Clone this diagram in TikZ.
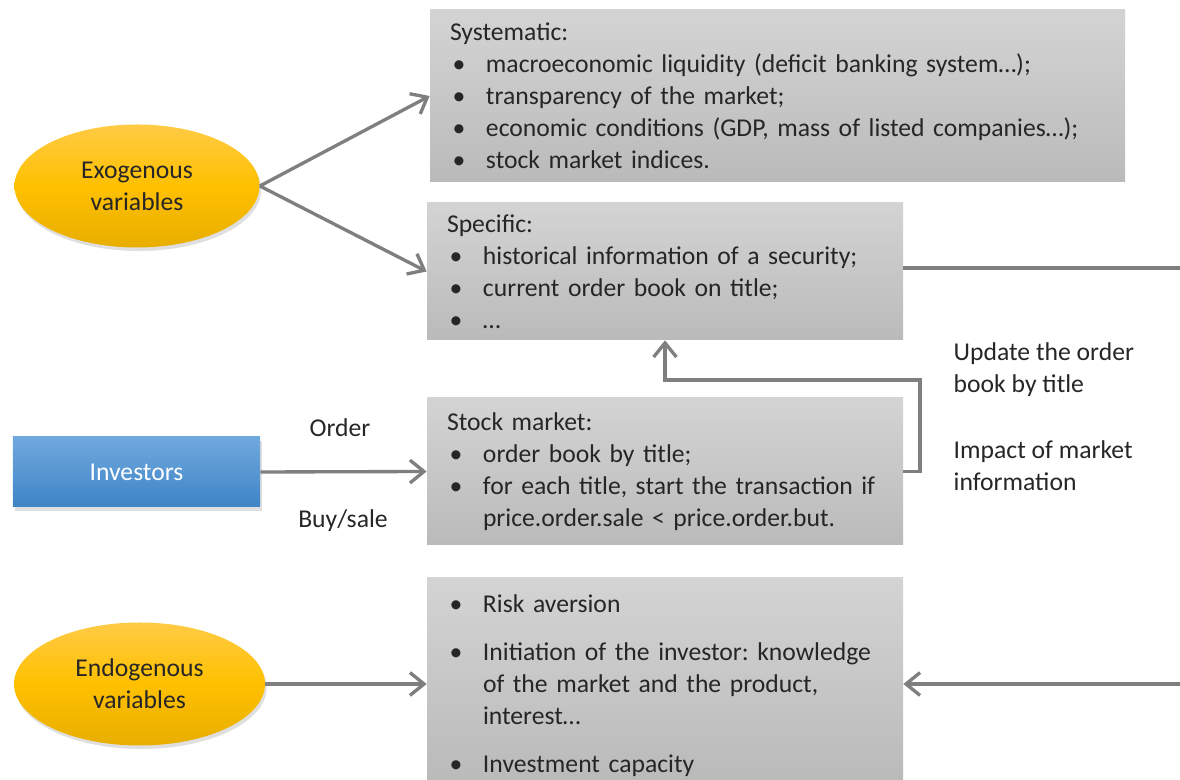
\documentclass[tikz,border=0pt]{standalone}
\usepackage{fontspec}
\setmainfont{Carlito}
\usepackage{xcolor}
\usetikzlibrary{arrows.meta,shadows,positioning,shapes.geometric}
\definecolor{linegray}{HTML}{7F7F7F}
\definecolor{txtgray}{HTML}{262626}
\definecolor{goldtop}{HTML}{FFCB45}
\definecolor{goldmid}{HTML}{FFC000}
\definecolor{goldbot}{HTML}{E8AE00}
\definecolor{bluetop}{HTML}{70A9DE}
\definecolor{bluebot}{HTML}{3E84C6}
\newcommand{\blt}{\par\noindent\hangindent=0.72cm\hangafter=1\makebox[0.72cm][l]{\hspace{0.05cm}\textbullet}}
\frenchspacing

\begin{document}
\begin{tikzpicture}[
  every node/.style={font=\fontsize{14.6}{18.2}\selectfont, text=txtgray},
  factor/.style={ellipse, minimum width=4.9cm, minimum height=2.46cm, align=center,
    top color=goldtop, bottom color=goldbot, middle color=goldmid,
    drop shadow={opacity=0.25, shadow xshift=1pt, shadow yshift=-2pt}},
  actor/.style={rectangle, minimum width=4.94cm, minimum height=1.4cm,
    top color=bluetop, bottom color=bluebot, text=white,
    drop shadow={opacity=0.25, shadow xshift=1pt, shadow yshift=-2pt}},
  infobox/.style={rectangle, top color=black!17, bottom color=black!27,
    align=left, inner xsep=0.4cm, inner ysep=0pt},
  conn/.style={draw=linegray, line width=1.9pt, -{Straight Barb[length=8pt,width=13pt]}},
  link/.style={draw=linegray, line width=1.9pt}
]
\useasboundingbox (0,0) rectangle (23.6,-15.6);

\node[factor] (exo) at (2.74,-3.72) {Exogenous\\variables};
\node[actor] (inv) at (2.73,-9.44) {Investors};
\node[factor, minimum width=5.02cm] (endo) at (2.79,-13.68) {Endogenous\\variables};

\node[infobox, minimum width=13.9cm, minimum height=3.44cm, text width=13.1cm] (syst) at (15.55,-1.92)
  {Systematic:
   \blt macroeconomic liquidity (deficit banking system…);
   \blt transparency of the market;
   \blt economic conditions (GDP, mass of listed companies…);
   \blt stock market indices.\par};
\node[infobox, minimum width=9.52cm, minimum height=2.74cm, text width=8.72cm] (spec) at (13.3,-5.43)
  {Specific:
   \blt historical information of a security;
   \blt current order book on title;
   \blt …\par};
\node[infobox, minimum width=9.52cm, minimum height=2.94cm, text width=8.72cm] (stock) at (13.3,-9.43)
  {Stock market:
   \blt order book by title;
   \blt for each title, start the transaction if\newline price.order.sale < price.order.but.\par};
\node[infobox, minimum width=9.52cm, minimum height=4.04cm, text width=8.72cm] (endbox) at (13.3,-13.58)
  {\blt Risk aversion\par\vspace{0.32cm}
   \blt Initiation of the investor: knowledge\newline of the market and the product,\newline interest…\par\vspace{0.32cm}
   \blt Investment capacity\par};

\node (order) at (6.8,-8.56) {Order};
\node (buysale) at (6.86,-10.42) {Buy/sale};
\node[anchor=west, align=left] (update) at (18.95,-7.39) {Update the order\\book by title};
\node[anchor=west, align=left] (impact) at (18.95,-9.32) {Impact of market\\information};

\coordinate (rtop) at (23.7,-5.36);
\coordinate (rbot) at (23.7,-13.68);
\coordinate (bend) at (18.4,-7.6);

\draw[conn] (exo.east) -- (syst.west);
\draw[conn] (exo.east) -- (spec.west);
\draw[conn] (inv.east) -- (stock.west);
\draw[conn] (endo.east) -- (endo.east -| endbox.west);
\draw[link] (spec.east |- rtop) -- (rtop);
\draw[conn] (rbot) -- (rbot -| endbox.east);
\draw[conn] (stock.east) -| (bend) -| (spec.south);
\end{tikzpicture}
\end{document}
